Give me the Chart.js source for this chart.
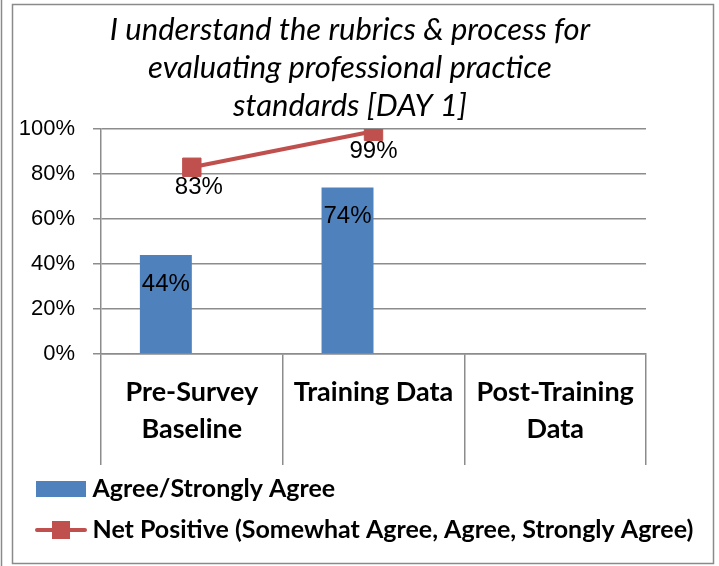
<!DOCTYPE html>
<html>
<head>
<meta charset="utf-8">
<script src="https://cdn.jsdelivr.net/npm/chart.js@4/dist/chart.umd.min.js"></script>
<style>
  html, body { margin: 0; padding: 0; background: #fff; }
  #wrap { position: relative; width: 719px; height: 566px; }
</style>
</head>
<body>
<div id="wrap"><canvas id="surveyChart"></canvas></div>
<script>
// Chart data
const categories = [['Pre-Survey', 'Baseline'], ['Training Data'], ['Post-Training', 'Data']];
const agreeValues = [44, 74, null];
const netPositiveValues = [83, 99, null];
const yTicks = [0, 20, 40, 60, 80, 100];
const titleLines = ['I understand the rubrics & process for', 'evaluating professional practice', 'standards [DAY 1]'];

const BLUE = '#4f81bd';
const RED = '#c0504d';
const GRID = '#8c8c8c';

// legend swatches (bar rect, and line with square marker)
function makeSwatch(kind) {
    const c = document.createElement('canvas');
    c.width = 54;
    c.height = 20;
    const g = c.getContext('2d');
    if (kind === 'bar') {
        g.fillStyle = BLUE;
        g.fillRect(2, 2, 50, 16);
    } else {
        g.strokeStyle = RED;
        g.lineWidth = 4;
        g.lineCap = 'round';
        g.beginPath();
        g.moveTo(3, 10);
        g.lineTo(51, 10);
        g.stroke();
        g.fillStyle = RED;
        g.fillRect(18, 1, 18, 18);
    }
    return c;
}
const barSwatch = makeSwatch('bar');
const lineSwatch = makeSwatch('line');

// percentage labels drawn next to bars / points
const valueLabels = {
    id: 'valueLabels',
    afterDatasetsDraw(chart) {
        const ctx = chart.ctx;
        ctx.save();
        ctx.font = '24px "Liberation Sans", Arial, sans-serif';
        ctx.fillStyle = '#000';
        ctx.textAlign = 'center';
        ctx.textBaseline = 'middle';
        chart.data.datasets.forEach(function(ds, i) {
            if (!ds.showLabels) return;
            const meta = chart.getDatasetMeta(i);
            meta.data.forEach(function(el, j) {
                const v = ds.data[j];
                if (v === null || v === undefined) return;
                const dy = ds.type === 'line' ? 20 : 29;
                const dx = (ds.type === 'line' && j === 0) ? 7 : 0;
                ctx.fillText(v + '%', el.x + dx, el.y + dy);
            });
        });
        ctx.restore();
    }
};

// outer frame of the chart object
const frame = {
    id: 'frame',
    beforeDraw(chart) {
        const ctx = chart.ctx;
        ctx.save();
        ctx.strokeStyle = '#8a8a8a';
        ctx.lineWidth = 1.5;
        ctx.strokeRect(12.5, 4.5, 701, 559);
        ctx.beginPath();
        ctx.moveTo(1.5, 0);
        ctx.lineTo(1.5, 566);
        ctx.stroke();
        ctx.restore();
    }
};

// nudge title centre and legend start like the original
const nudgeBoxes = {
    id: 'nudgeBoxes',
    afterLayout(chart) {
        if (chart.titleBlock) chart.titleBlock.right -= 26;
        if (chart.legend) chart.legend.left += 14;
    }
};

new Chart(document.getElementById('surveyChart'), {
    data: {
        labels: categories,
        datasets: [{
            type: 'line',
            label: 'Net Positive (Somewhat Agree, Agree, Strongly Agree)',
            data: netPositiveValues,
            borderColor: RED,
            backgroundColor: RED,
            borderWidth: 4,
            pointStyle: 'rect',
            pointRadius: 13,
            pointBackgroundColor: RED,
            pointBorderColor: RED,
            pointBorderWidth: 1,
            showLabels: true,
            order: 0
        }, {
            type: 'bar',
            label: 'Agree/Strongly Agree',
            data: agreeValues,
            backgroundColor: BLUE,
            categoryPercentage: 0.572,
            barPercentage: 1,
            showLabels: true,
            order: 1
        }, {
            type: 'bar',
            label: 'spacer',
            data: [null, null, null],
            backgroundColor: 'rgba(0,0,0,0)',
            categoryPercentage: 0.572,
            barPercentage: 1,
            order: 2
        }]
    },
    options: {
        responsive: true,
        maintainAspectRatio: false,
        animation: false,
        layout: { padding: { left: 12, right: 5, top: 8, bottom: 13.5 } },
        plugins: {
            title: {
                display: true,
                text: titleLines,
                color: '#000',
                font: { family: 'Lato, "Open Sans", sans-serif', size: 31, style: 'italic', weight: 'normal', lineHeight: 38 / 31 },
                padding: { top: 3, bottom: 4 }
            },
            legend: {
                position: 'bottom',
                align: 'start',
                labels: {
                    color: '#000',
                    font: { family: 'Lato, "Open Sans", sans-serif', size: 25, weight: 'bold' },
                    usePointStyle: true,
                    pointStyleWidth: 38,
                    padding: 16,
                    generateLabels: function() {
                        return [
                            { text: 'Agree/Strongly Agree', pointStyle: barSwatch, fontColor: '#000', lineWidth: 0, strokeStyle: 'rgba(0,0,0,0)', fillStyle: BLUE, datasetIndex: 1 },
                            { text: 'Net Positive (Somewhat Agree, Agree, Strongly Agree)', pointStyle: lineSwatch, fontColor: '#000', lineWidth: 0, strokeStyle: 'rgba(0,0,0,0)', fillStyle: RED, datasetIndex: 0 }
                        ];
                    }
                }
            },
            tooltip: { enabled: false }
        },
        scales: {
            x: {
                grid: {
                    display: true,
                    offset: true,
                    drawOnChartArea: false,
                    drawTicks: true,
                    tickLength: 111,
                    color: GRID,
                    lineWidth: 1.5
                },
                border: { display: true, color: GRID, width: 1.5 },
                ticks: {
                    color: '#000',
                    padding: -91.5,
                    maxRotation: 0,
                    autoSkip: false,
                    font: { family: 'Lato, "Open Sans", sans-serif', size: 27, weight: 'bold', lineHeight: 37 / 27 }
                },
                afterFit: function(scale) { scale.height = 106.5; }
            },
            y: {
                min: 0,
                max: 100,
                afterBuildTicks: function(scale) {
                    scale.ticks = yTicks.map(function(v) { return { value: v }; });
                },
                grid: { color: GRID, lineWidth: 1.5, tickLength: 8 },
                border: { display: true, color: GRID, width: 1.5 },
                ticks: {
                    color: '#000',
                    padding: 18,
                    font: { family: '"Liberation Sans", Arial, sans-serif', size: 22 },
                    callback: function(v) { return v + '%'; }
                },
                afterFit: function(scale) { scale.width = 89; }
            },
            yR: {
                position: 'right',
                display: true,
                grid: { display: false },
                border: { display: false },
                ticks: { display: false },
                afterFit: function(scale) { scale.width = 68; }
            }
        }
    },
    plugins: [frame, valueLabels, nudgeBoxes]
});
</script>
</body>
</html>
